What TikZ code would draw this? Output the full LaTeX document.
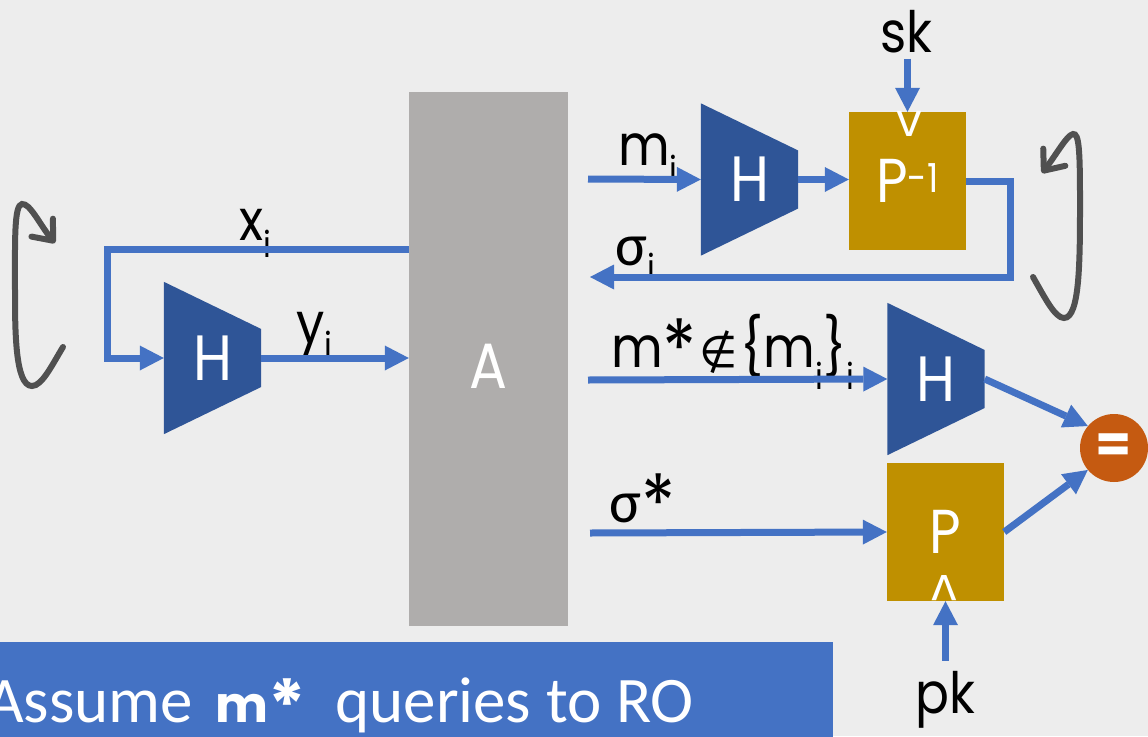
\documentclass[tikz,border=0pt]{standalone}
\usepackage{fontspec}
\setmainfont{Poppins}
\newfontfamily\calib{Carlito}
\newfontfamily\lbl[FakeStretch=0.88]{Poppins}
\newfontfamily\dv{DejaVu Sans}
\usetikzlibrary{arrows.meta,calc,backgrounds}
\definecolor{bg}{HTML}{EDEDED}
\definecolor{agray}{HTML}{AFADAC}
\definecolor{hblue}{HTML}{2F5597}
\definecolor{lblue}{HTML}{4472C4}
\definecolor{gold}{HTML}{BF9000}
\definecolor{eqor}{HTML}{C55A11}
\definecolor{dgray}{HTML}{505050}
\newcommand\fs[1]{\fontsize{#1}{#1}\selectfont}
\begin{document}
\begin{tikzpicture}[x=1pt,y=-1pt,
  conn/.style={draw=lblue,line width=7pt,line join=miter,-{Triangle[length=24pt,width=25pt,line width=0pt]}},
  loopar/.style={draw=dgray,line width=6pt,line cap=round,-{Straight Barb[length=17pt,width=28pt,round]}},
  hbox/.style={inner sep=0,minimum width=97pt,minimum height=152pt,text=white,font=\lbl\fs{64}},
  pbox/.style={fill=gold,inner sep=0,minimum width=117pt,minimum height=138pt,text=white,font=\lbl\fs{62}},
  lab/.style={font=\lbl\fs{57},inner sep=0,anchor=base west},
  wmark/.style={text=white,font=\fs{46},inner sep=0}]
\begin{scope}[on background layer]
\fill[bg] (0,0) rectangle (1148,736);
\end{scope}
\useasboundingbox (0,0) rectangle (1148,736);

% A box
\node[fill=agray,minimum width=159pt,minimum height=534pt,inner sep=0] (A) at (488.5,359) {};
\node[text=white,font=\lbl\fs{64},inner sep=0] (Alab) at (488,366) {A};

% hash boxes
\node[hbox] (H1) at (212.5,358) {H};
\node[hbox] (H2) at (749.5,179.5) {H};
\node[hbox] (H3) at (936,379) {H};
\begin{scope}[on background layer]
\foreach \h in {H1,H2,H3}{
  \fill[hblue] (\h.north west) -- ($(\h.east)+(0,-29)$) -- ($(\h.east)+(0,29)$) -- (\h.south west) -- cycle;
}
\end{scope}

% permutation boxes
\node[pbox] (Pinv) at (907.5,181) {P\raisebox{10pt}{\fs{40}-1}};
\node[pbox] (Pb) at (945.5,532) {P};
\node[wmark] (vmark) at (909,124) {v};
\node[wmark] (hmark) at (944,588) {\scalebox{1}[-1]{v}};

% equality
\node[circle,fill=eqor,minimum size=68pt,inner sep=0,text=white,font=\fs{52}\bfseries] (eq) at (1114,448) {=};

% banner
\node[fill=lblue,anchor=north west,minimum width=833pt,minimum height=96pt,inner sep=0] (banner) at (0,642) {};
\node[anchor=base west,inner sep=0,text=white] (btxt) at (-14,722) {{\calib\fs{65}Assume}\hspace{22pt}{\fs{50}\bfseries m\raisebox{-8pt}{\fs{70}*}}\hspace{30pt}{\calib\fs{65}queries to RO}};

% labels
\node[lab] (sk) at (880,52) {sk};
\node[lab] (pk) at (915,713) {pk};
\node[lab] (lx) at (239,240) {x\raisebox{-17pt}{\fs{36}i}};
\node[lab] (ly) at (296,343) {y\raisebox{-15pt}{\fs{36}i}};
\node[lab] (lm) at (618,165) {m\raisebox{-17pt}{\fs{36}i}};
\node[lab] (ls) at (615,265) {{\calib\fs{60}σ}\raisebox{-15pt}{\fs{36}i}};
\node[lab] (lmstar) at (611,367) {m\raisebox{-10pt}{\fs{80}*}\hspace{2pt}{\dv\fs{44}∉}\hspace{3pt}\{m\raisebox{-22pt}{\fs{36}i}\}\raisebox{-22pt}{\fs{36}i}};
\node[lab] (lsstar) at (609,522) {{\calib\fs{60}σ}\raisebox{-10pt}{\fs{80}*}};

% free ends
\coordinate (xrow) at (0,249);
\coordinate (mi) at (588,179);
\coordinate (sgi) at (590,277);
\coordinate (ms) at (588,380);
\coordinate (ss) at (590,533);

% connectors
\draw[conn] (A.west |- xrow) -| (107,358) -- (H1.west);
\draw[conn] (H1.east) -- (A.west |- H1.east);
\draw[conn] (mi) -- (H2.west);
\draw[conn] (H2.east) -- (Pinv.west |- H2.east);
\draw[conn] ([yshift=-6pt]sk.south -| Pinv.north) -- (Pinv.north);
\draw[conn] (Pinv.east) -| (1010,277) -- (sgi);
\draw[conn] (ms) -- (H3.west);
\draw[conn] (ss) -- (Pb.west);
\draw[conn] ([yshift=10pt]pk.north -| Pb.south) -- (Pb.south);
\draw[conn] (H3.east) -- (eq.140);
\draw[conn] (Pb.east) -- (eq.220);

% loops
\draw[loopar] (1033,277) .. controls (1045,298) and (1055,318) .. (1064,318)
  .. controls (1080,318) and (1080,260) .. (1080,200)
  .. controls (1080,150) and (1079,133) .. (1073,134)
  .. controls (1067,135) and (1056,155) .. (1042,173);
\draw[loopar] (63,347) .. controls (52,365) and (42,386) .. (32,386)
  .. controls (15,386) and (15,330) .. (15,290)
  .. controls (15,240) and (14,205) .. (22,204)
  .. controls (30,203) and (40,225) .. (55,243);
\end{tikzpicture}
\end{document}
